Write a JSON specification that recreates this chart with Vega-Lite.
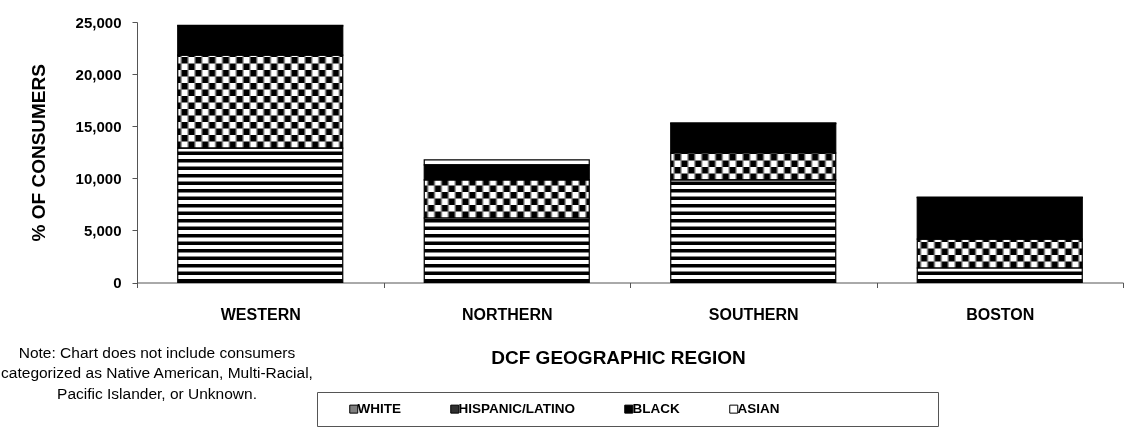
{
  "$schema": "https://vega.github.io/schema/vega-lite/v6.json",
  "width": 986,
  "height": 260.5,
  "autosize": {"type": "none"},
  "padding": {"left": 137, "top": 22, "right": 20, "bottom": 151.5},
  "background": "#ffffff",
  "config": {
    "view": {"stroke": null},
    "font": "Liberation Sans",
    "title": {"font": "Liberation Sans"}
  },
  "title": {
    "text": ["Note: Chart does not include consumers", "categorized as Native American, Multi-Racial,", "Pacific Islander, or Unknown."],
    "orient": "bottom",
    "anchor": "start",
    "frame": "group",
    "align": "center",
    "baseline": "top",
    "fontSize": 15.5,
    "fontWeight": "normal",
    "color": "#000000",
    "lineHeight": 20.5,
    "dx": 20,
    "dy": -81,
    "offset": 0
  },
  "data": {
    "values": [
      {"region": "WESTERN", "race": "WHITE", "value": 12900},
      {"region": "WESTERN", "race": "HISPANIC/LATINO", "value": 8930},
      {"region": "WESTERN", "race": "BLACK", "value": 2800},
      {"region": "WESTERN", "race": "ASIAN", "value": 60},
      {"region": "NORTHERN", "race": "WHITE", "value": 6190},
      {"region": "NORTHERN", "race": "HISPANIC/LATINO", "value": 3650},
      {"region": "NORTHERN", "race": "BLACK", "value": 1440},
      {"region": "NORTHERN", "race": "ASIAN", "value": 480},
      {"region": "SOUTHERN", "race": "WHITE", "value": 9840},
      {"region": "SOUTHERN", "race": "HISPANIC/LATINO", "value": 2590},
      {"region": "SOUTHERN", "race": "BLACK", "value": 2820},
      {"region": "SOUTHERN", "race": "ASIAN", "value": 60},
      {"region": "BOSTON", "race": "WHITE", "value": 1390},
      {"region": "BOSTON", "race": "HISPANIC/LATINO", "value": 2780},
      {"region": "BOSTON", "race": "BLACK", "value": 3970},
      {"region": "BOSTON", "race": "ASIAN", "value": 60}
    ]
  },
  "transform": [
    {"stack": "value", "groupby": ["region"], "sort": [{"field": "race", "order": "descending"}], "as": ["y0", "y1"]}
  ],
  "encoding": {
    "x": {
      "field": "region",
      "type": "nominal",
      "sort": ["WESTERN", "NORTHERN", "SOUTHERN", "BOSTON"],
      "scale": {"paddingInner": 0, "paddingOuter": 0},
      "axis": {
        "title": "DCF GEOGRAPHIC REGION",
        "titleFontSize": 19,
        "titleFontWeight": "bold",
        "titleColor": "#000000",
        "titleX": 481,
        "titleY": 74.5,
        "titleAlign": "center",
        "titleBaseline": "middle",
        "labelAngle": 0,
        "labelFontSize": 16,
        "labelFontWeight": "bold",
        "labelColor": "#000000",
        "labelPadding": 18.5,
        "tickSize": 5,
        "tickBand": "extent",
        "tickColor": "#555555",
        "domainColor": "#555555",
        "grid": false
      }
    },
    "y": {
      "field": "y0",
      "type": "quantitative",
      "scale": {"domain": [0, 25000], "nice": false},
      "axis": {
        "title": "% OF CONSUMERS",
        "titleFontSize": 19,
        "titleFontWeight": "bold",
        "titleColor": "#000000",
        "titleX": -99,
        "titleY": 130.25,
        "titleAngle": 270,
        "titleAlign": "center",
        "titleBaseline": "middle",
        "values": [0, 5000, 10000, 15000, 20000, 25000],
        "format": ",d",
        "labelFontSize": 15,
        "labelFontWeight": "bold",
        "labelColor": "#000000",
        "labelPadding": 11,
        "tickSize": 5,
        "tickColor": "#555555",
        "domainColor": "#555555",
        "grid": false
      }
    },
    "y2": {"field": "y1"}
  },
  "layer": [
    {
      "mark": {"type": "bar", "width": 165},
      "encoding": {
        "fill": {
          "field": "race",
          "type": "nominal",
          "scale": {"domain": ["WHITE", "HISPANIC/LATINO", "BLACK", "ASIAN"], "range": ["#808080", "#303030", "#000000", "#ffffff"]},
          "legend": {
            "title": null,
            "orient": "none",
            "legendX": 180,
            "legendY": 370,
            "direction": "horizontal",
            "symbolType": "square",
            "symbolSize": 64,
            "symbolStrokeColor": "#000000",
            "symbolStrokeWidth": 1,
            "labelFontSize": 13.5,
            "labelFontWeight": "bold",
            "labelColor": "#000000",
            "labelOffset": -3,
            "labelLimit": 600,
            "symbolOffset": 20,
            "columnPadding": 27,
            "padding": 10,
            "strokeColor": "#555555",
            "labelExpr": "datum.label == 'ASIAN' ? 'ASIAN\u00a0\u00a0\u2800\u2800\u2800\u2800\u2800\u2800\u2800\u2800\u2800\u2800\u2800\u2800\u2800\u2800' : datum.label"
          }
        }
      }
    },
    {
      "transform": [{"filter": "datum.race == 'WHITE'"}],
      "mark": {"type": "bar", "width": 165, "fill": "#ffffff"},
      "encoding": {}
    },
    {
      "transform": [{"filter": "datum.race == 'WHITE'"}],
      "mark": {"type": "rule", "stroke": "#000000", "strokeWidth": 165, "strokeDash": [3.5, 4], "strokeCap": "butt"},
      "encoding": {}
    },
    {
      "transform": [{"filter": "datum.race == 'HISPANIC/LATINO'"}],
      "mark": {
        "type": "bar",
        "width": 165,
        "fill": {
          "gradient": "linear",
          "x1": 0, "y1": 0, "x2": 1, "y2": 0,
          "stops": [
            {"offset": 0, "color": "#ffffff"},
            {"offset": 0.0125, "color": "#ffffff"}, {"offset": 0.0292, "color": "#000000"}, {"offset": 0.0542, "color": "#000000"}, {"offset": 0.0708, "color": "#ffffff"},
            {"offset": 0.0958, "color": "#ffffff"}, {"offset": 0.1125, "color": "#000000"}, {"offset": 0.1375, "color": "#000000"}, {"offset": 0.1542, "color": "#ffffff"},
            {"offset": 0.1792, "color": "#ffffff"}, {"offset": 0.1958, "color": "#000000"}, {"offset": 0.2208, "color": "#000000"}, {"offset": 0.2375, "color": "#ffffff"},
            {"offset": 0.2625, "color": "#ffffff"}, {"offset": 0.2792, "color": "#000000"}, {"offset": 0.3042, "color": "#000000"}, {"offset": 0.3208, "color": "#ffffff"},
            {"offset": 0.3458, "color": "#ffffff"}, {"offset": 0.3625, "color": "#000000"}, {"offset": 0.3875, "color": "#000000"}, {"offset": 0.4042, "color": "#ffffff"},
            {"offset": 0.4292, "color": "#ffffff"}, {"offset": 0.4458, "color": "#000000"}, {"offset": 0.4708, "color": "#000000"}, {"offset": 0.4875, "color": "#ffffff"},
            {"offset": 0.5125, "color": "#ffffff"}, {"offset": 0.5292, "color": "#000000"}, {"offset": 0.5542, "color": "#000000"}, {"offset": 0.5708, "color": "#ffffff"},
            {"offset": 0.5958, "color": "#ffffff"}, {"offset": 0.6125, "color": "#000000"}, {"offset": 0.6375, "color": "#000000"}, {"offset": 0.6542, "color": "#ffffff"},
            {"offset": 0.6792, "color": "#ffffff"}, {"offset": 0.6958, "color": "#000000"}, {"offset": 0.7208, "color": "#000000"}, {"offset": 0.7375, "color": "#ffffff"},
            {"offset": 0.7625, "color": "#ffffff"}, {"offset": 0.7792, "color": "#000000"}, {"offset": 0.8042, "color": "#000000"}, {"offset": 0.8208, "color": "#ffffff"},
            {"offset": 0.8458, "color": "#ffffff"}, {"offset": 0.8625, "color": "#000000"}, {"offset": 0.8875, "color": "#000000"}, {"offset": 0.9042, "color": "#ffffff"},
            {"offset": 0.9292, "color": "#ffffff"}, {"offset": 0.9458, "color": "#000000"}, {"offset": 0.9708, "color": "#000000"}, {"offset": 0.9875, "color": "#ffffff"},
            {"offset": 1, "color": "#ffffff"}
          ]
        }
      },
      "encoding": {}
    },
    {
      "transform": [{"filter": "datum.race == 'HISPANIC/LATINO'"}],
      "mark": {"type": "rule", "stroke": "#ffffff", "strokeWidth": 165, "strokeDash": [6.5, 6.5], "strokeCap": "butt", "blend": "difference"},
      "encoding": {}
    },
    {
      "mark": {"type": "bar", "width": 165, "fill": "transparent", "stroke": "#000000", "strokeWidth": 1.2},
      "encoding": {}
    }
  ]
}
